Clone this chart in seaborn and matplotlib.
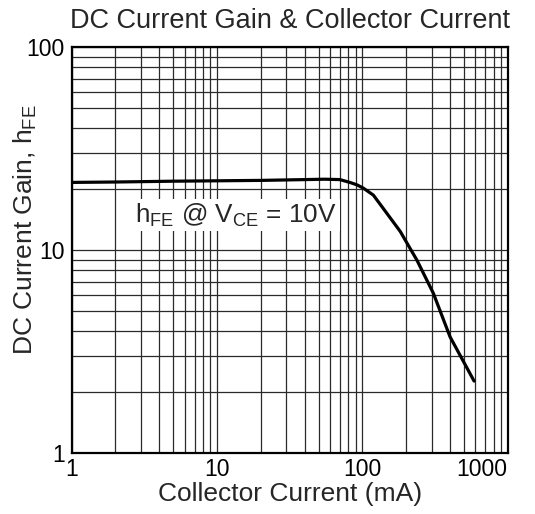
import matplotlib
matplotlib.use("Agg")
import matplotlib.pyplot as plt
import seaborn as sns
import pandas as pd
from matplotlib.ticker import LogLocator, FixedLocator, FixedFormatter, NullFormatter

# collector current (mA) vs DC current gain
collector_current = [1, 2, 5, 10, 20, 40, 55, 70, 82, 92, 102, 119, 139, 182, 237, 308, 401, 587]
current_gain = [21.6, 21.7, 21.9, 22.0, 22.1, 22.3, 22.4, 22.3, 21.6, 21.0, 20.2, 18.7, 16.1, 12.4, 8.96, 6.14, 3.75, 2.27]

x_ticks = [1, 10, 100, 1000]
x_tick_labels = ["1", "10", "100", "1000"]
y_ticks = [1, 10, 100]
y_tick_labels = ["1", "10", "100"]

sns.set_style("white")
plt.rcParams['font.family'] = ['Liberation Sans', 'DejaVu Sans']
plt.rcParams['mathtext.fontset'] = 'custom'
plt.rcParams['mathtext.rm'] = 'Liberation Sans'
plt.rcParams['mathtext.it'] = 'Liberation Sans'

df = pd.DataFrame({'ic': collector_current, 'hfe': current_gain})

fig = plt.figure(figsize=(5.35, 5.14), dpi=100)
ax = fig.add_axes([0.134, 0.118, 0.815, 0.790])

sns.lineplot(data=df, x='ic', y='hfe', ax=ax, color='black', linewidth=2.3, zorder=3)

ax.set_xscale('log')
ax.set_yscale('log')
ax.set_xlim(1, 1000)
ax.set_ylim(1, 100)

# full log grid, majors and minors
ax.xaxis.set_minor_locator(LogLocator(base=10, subs=range(2, 10)))
ax.yaxis.set_minor_locator(LogLocator(base=10, subs=range(2, 10)))
ax.xaxis.set_minor_formatter(NullFormatter())
ax.yaxis.set_minor_formatter(NullFormatter())
ax.grid(True, which='both', color='#2a2a2a', linewidth=0.9)
ax.set_axisbelow(True)

ax.xaxis.set_major_locator(FixedLocator(x_ticks))
ax.xaxis.set_major_formatter(FixedFormatter(x_tick_labels))
ax.yaxis.set_major_locator(FixedLocator(y_ticks))
ax.yaxis.set_major_formatter(FixedFormatter(y_tick_labels))
ax.tick_params(which='both', length=0, labelsize=16.5, colors='black')
ax.tick_params(axis='x', pad=3)
ax.tick_params(axis='y', pad=5)
# last label sits inside the right edge, like the datasheet
ax.get_xticklabels()[-1].set_ha('right')

for sp in ax.spines.values():
    sp.set_linewidth(1.6)
    sp.set_color('black')

ax.set_title('DC Current Gain & Collector Current', fontsize=19.5, pad=14)
ax.set_xlabel('Collector Current (mA)', fontsize=19, labelpad=1)
ax.set_ylabel(r'DC Current Gain, h$_{\mathrm{FE}}$', fontsize=19)
ax.yaxis.set_label_coords(-0.075, 0.55)

ax.text(0.145, 0.587, r'h$_{\mathrm{FE}}$ @ V$_{\mathrm{CE}}$ = 10V', transform=ax.transAxes,
        fontsize=18.8, ha='left', va='center', zorder=4,
        bbox=dict(facecolor='white', edgecolor='none', pad=2))

ax.set_xlim(1, 1000)
fig.savefig('out.png', dpi=100)
